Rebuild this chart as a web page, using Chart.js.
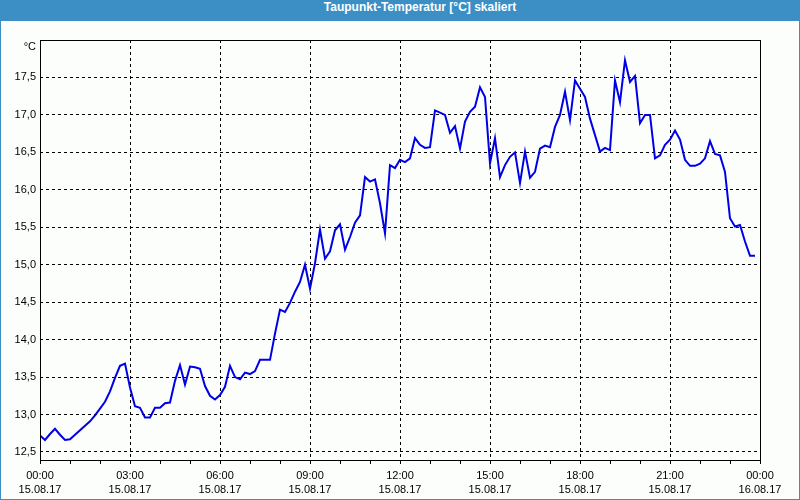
<!DOCTYPE html>
<html>
<head>
<meta charset="utf-8">
<script src="https://cdn.jsdelivr.net/npm/chart.js@4"></script>
<style>
  html, body { margin: 0; padding: 0; background: #fcfefc; }
  #frame {
    width: 800px; height: 500px; box-sizing: border-box;
    border: 1px solid #3c8fc5; border-top: none; background: #fcfefc;
  }
  #title {
    height: 21px; line-height: 21px; background: #3c8fc5; color: #fff;
    font: bold 12px "Liberation Sans", Arial, sans-serif;
    text-align: center; padding-left: 40px; box-sizing: border-box;
  }
  #wrap { position: relative; width: 798px; height: 478px; }
</style>
</head>
<body>
<div id="frame">
  <div id="title">Taupunkt-Temperatur [°C] skaliert</div>
  <div id="wrap"><canvas id="chart" width="798" height="478"></canvas></div>
</div>
<script>
// Taupunkt über den Tag, ein Wert alle 10 Minuten ab 15.08.17 00:00
const stepMinutes = 10;
const dewPoint = [
  12.72, 12.66, 12.74, 12.81, 12.73, 12.66, 12.67, 12.73, 12.79, 12.85,
  12.91, 12.99, 13.08, 13.17, 13.31, 13.49, 13.65, 13.68, 13.36, 13.11,
  13.09, 12.96, 12.96, 13.09, 13.09, 13.15, 13.16, 13.45, 13.66, 13.40,
  13.64, 13.63, 13.61, 13.38, 13.25, 13.20, 13.26, 13.37, 13.65, 13.50,
  13.47, 13.56, 13.54, 13.58, 13.73, 13.73, 13.73, 14.08, 14.40, 14.37,
  14.49, 14.64, 14.77, 15.00, 14.68, 15.02, 15.47, 15.08, 15.18, 15.46,
  15.54, 15.20, 15.37, 15.56, 15.66, 16.17, 16.11, 16.14, 15.82, 15.42,
  16.33, 16.29, 16.40, 16.37, 16.42, 16.69, 16.60, 16.56, 16.57, 17.06,
  17.03, 17.00, 16.76, 16.85, 16.55, 16.91, 17.04, 17.11, 17.37, 17.24,
  16.35, 16.69, 16.17, 16.33, 16.44, 16.50, 16.09, 16.51, 16.16, 16.24,
  16.55, 16.59, 16.57, 16.84, 17.00, 17.31, 16.93, 17.46, 17.35, 17.24,
  16.95, 16.73, 16.51, 16.56, 16.53, 17.46, 17.17, 17.73, 17.44, 17.52,
  16.89, 17.00, 17.00, 16.42, 16.46, 16.60, 16.67, 16.79, 16.67, 16.40,
  16.32, 16.32, 16.35, 16.42, 16.65, 16.48, 16.46, 16.24, 15.62, 15.51,
  15.53, 15.31, 15.12, 15.12
];
const yTicks = [12.5, 13.0, 13.5, 14.0, 14.5, 15.0, 15.5, 16.0, 16.5, 17.0, 17.5];
const xTicks = [0, 60, 120, 180, 240, 300, 360, 420, 480, 540, 600, 660, 720,
                780, 840, 900, 960, 1020, 1080, 1140, 1200, 1260, 1320, 1380, 1440];
const xLabelEvery = 180;
const startDay = 15;
const unitLabel = '°C';

const font = { family: '"Liberation Sans", Arial, sans-serif', size: 11 };

const pad2 = n => String(n).padStart(2, '0');

// Rahmen um die Zeichenfläche und Einheit oben links
const frameBox = {
  id: 'frameBox',
  afterDraw(chart) {
    const { ctx, chartArea: a } = chart;
    ctx.save();
    ctx.strokeStyle = '#000';
    ctx.lineWidth = 1;
    ctx.strokeRect(Math.round(a.left) + 0.5, Math.round(a.top) + 0.5,
                   Math.round(a.right - a.left), Math.round(a.bottom - a.top));
    ctx.fillStyle = '#000';
    ctx.font = '11px ' + font.family;
    ctx.textAlign = 'right';
    ctx.textBaseline = 'middle';
    ctx.fillText(unitLabel, a.left - 4, a.top + 7);
    ctx.restore();
  }
};

new Chart(document.getElementById('chart'), {
  type: 'line',
  data: {
    datasets: [{
      data: dewPoint.map((v, i) => ({ x: i * stepMinutes, y: v })),
      borderColor: '#0000e6',
      borderWidth: 2,
      pointRadius: 0,
      tension: 0,
      fill: false
    }]
  },
  options: {
    responsive: false,
    animation: false,
    layout: { padding: { left: 0, top: 19, right: 39, bottom: 0 } },
    plugins: { legend: { display: false }, tooltip: { enabled: false } },
    scales: {
      x: {
        type: 'linear',
        min: 0,
        max: 1440,
        afterBuildTicks: s => { s.ticks = xTicks.map(v => ({ value: v })); },
        afterFit: s => { s.height = 39; },
        border: { display: false, dash: [3, 3] },
        grid: {
          color: c => (c.tick && c.tick.value % xLabelEvery === 0) ? '#000' : 'rgba(0,0,0,0)',
          tickColor: '#000',
          tickLength: 4,
          tickBorderDash: [],
          lineWidth: 1
        },
        ticks: {
          autoSkip: false,
          maxRotation: 0,
          padding: 5,
          color: '#000',
          font: { ...font, lineHeight: 1.3 },
          callback: v => {
            if (v % xLabelEvery !== 0) return '';
            const h = Math.floor(v / 60) % 24;
            const day = startDay + Math.floor(v / 1440);
            return [pad2(h) + ':00', day + '.08.17'];
          }
        }
      },
      y: {
        min: 12.393,
        max: 18.0,
        afterBuildTicks: s => { s.ticks = yTicks.map(v => ({ value: v })); },
        afterFit: s => { s.width = 39; },
        border: { display: false, dash: [3, 3] },
        grid: { color: '#000', drawTicks: false, lineWidth: 1 },
        ticks: {
          padding: 4,
          color: '#000',
          font,
          callback: v => v.toFixed(1).replace('.', ',')
        }
      }
    }
  },
  plugins: [frameBox]
});
</script>
</body>
</html>
